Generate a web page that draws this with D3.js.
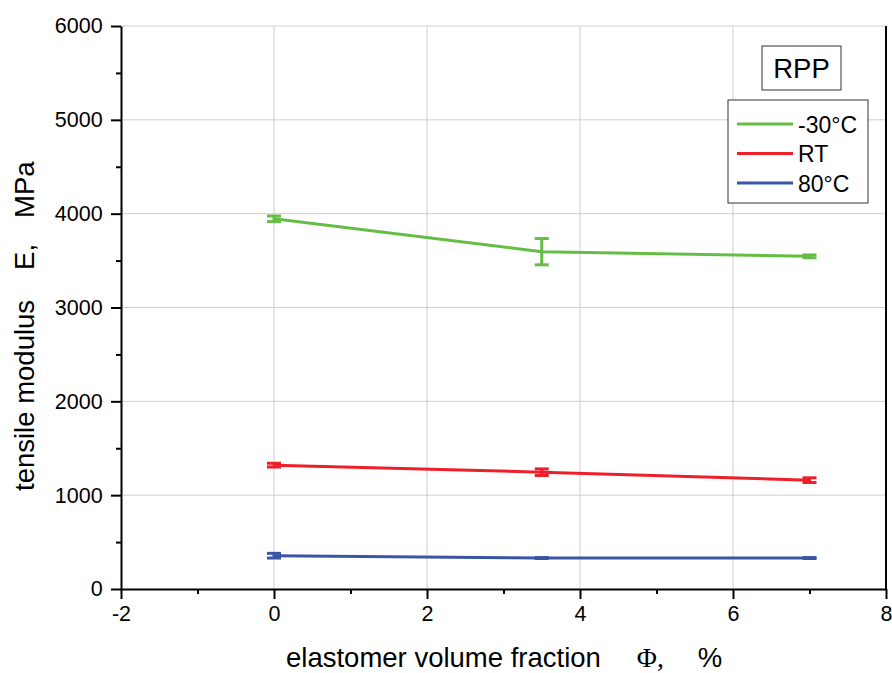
<!DOCTYPE html>
<html>
<head>
<meta charset="utf-8">
<script src="https://cdn.jsdelivr.net/npm/d3@7/dist/d3.min.js"></script>
<style>
  html, body { margin: 0; padding: 0; background: #fff; }
  svg { display: block; font-family: "Liberation Sans", Arial, sans-serif; }
</style>
</head>
<body>
<svg id="chart" width="892" height="673"></svg>
<script>
// Elastomer volume fraction (%) at which the modulus was measured
const fractions = [0, 3.5, 7];

// Tensile modulus E (MPa) and its spread for each test temperature
const coldValues = [3945, 3595, 3545];
const coldErrors = [30, 140, 15];
const roomValues = [1320, 1245, 1160];
const roomErrors = [20, 35, 25];
const hotValues = [355, 330, 330];
const hotErrors = [25, 5, 5];

const seriesNames = ["-30°C", "RT", "80°C"];
const seriesColors = ["#66bd45", "#ee1f28", "#3a55a4"];

const xTicks = [-2, 0, 2, 4, 6, 8];
const yTicks = [0, 1000, 2000, 3000, 4000, 5000, 6000];
const materialLabel = "RPP";

const series = seriesNames.map((name, i) => ({
  name,
  color: seriesColors[i],
  values: [coldValues, roomValues, hotValues][i],
  errors: [coldErrors, roomErrors, hotErrors][i]
}));

const svg = d3.select("#chart");
const plotLeft = 121, plotRight = 886, plotTop = 26, plotBottom = 589;

const x = d3.scaleLinear().domain([-2, 8]).range([plotLeft, plotRight]);
const y = d3.scaleLinear().domain([0, 6000]).range([plotBottom, plotTop]);

// grid
const grid = svg.append("g").attr("stroke", "#cfcfcf").attr("stroke-width", 1);
grid.selectAll(".gx").data(xTicks.filter(t => t > -2 && t < 8)).join("line")
  .attr("x1", d => x(d)).attr("x2", d => x(d))
  .attr("y1", plotTop).attr("y2", plotBottom);
grid.selectAll(".gy").data(yTicks.filter(t => t > 0)).join("line")
  .attr("x1", plotLeft).attr("x2", plotRight)
  .attr("y1", d => y(d)).attr("y2", d => y(d));

// right frame line
svg.append("line").attr("x1", plotRight).attr("x2", plotRight).attr("y1", plotTop).attr("y2", plotBottom)
  .attr("stroke", "#000").attr("stroke-width", 2);

// minor ticks
const xMinor = d3.range(-1, 8, 2);
const yMinor = d3.range(500, 6000, 1000);

const plainNumber = d => String(d);
const xAxis = d3.axisBottom(x).tickValues(xTicks).tickFormat(plainNumber).tickSize(10).tickSizeOuter(0);
const yAxis = d3.axisLeft(y).tickValues(yTicks).tickFormat(plainNumber).tickSize(10).tickSizeOuter(0);

const gx = svg.append("g").attr("transform", `translate(0,${plotBottom})`).call(xAxis);
const gy = svg.append("g").attr("transform", `translate(${plotLeft},0)`).call(yAxis);

svg.append("g").attr("transform", `translate(0,${plotBottom})`)
  .call(d3.axisBottom(x).tickValues(xMinor).tickSize(5).tickFormat("").tickSizeOuter(0))
  .select(".domain").remove();
svg.append("g").attr("transform", `translate(${plotLeft},0)`)
  .call(d3.axisLeft(y).tickValues(yMinor).tickSize(5).tickFormat("").tickSizeOuter(0))
  .select(".domain").remove();

svg.selectAll(".domain").attr("stroke", "#000").attr("stroke-width", 2);
svg.selectAll(".tick line").attr("stroke", "#000").attr("stroke-width", 2);
gx.selectAll(".tick text").attr("font-size", 21.5).attr("fill", "#000").attr("dy", "0.9em").attr("font-family", "Liberation Sans, Arial, sans-serif");
gy.selectAll(".tick text").attr("font-size", 21.5).attr("fill", "#000").attr("dx", "-0.25em").attr("font-family", "Liberation Sans, Arial, sans-serif");

// lines and error bars
const line = d3.line().x(d => x(d.f)).y(d => y(d.v));
const capHalf = 7;
series.forEach(s => {
  const pts = fractions.map((f, i) => ({ f, v: s.values[i], e: s.errors[i] }));
  svg.append("path").datum(pts).attr("d", line)
    .attr("fill", "none").attr("stroke", s.color).attr("stroke-width", 3);
  const eb = svg.append("g").attr("stroke", s.color).attr("stroke-width", 3);
  pts.forEach(p => {
    eb.append("line").attr("x1", x(p.f)).attr("x2", x(p.f))
      .attr("y1", y(p.v - p.e)).attr("y2", y(p.v + p.e));
    [p.v - p.e, p.v + p.e].forEach(v => {
      eb.append("line").attr("x1", x(p.f) - capHalf).attr("x2", x(p.f) + capHalf)
        .attr("y1", y(v)).attr("y2", y(v));
    });
  });
});

// material label box
svg.append("rect").attr("x", 762).attr("y", 46).attr("width", 79).attr("height", 44)
  .attr("fill", "#fff").attr("stroke", "#333").attr("stroke-width", 1);
svg.append("text").attr("x", 801.5).attr("y", 78).attr("text-anchor", "middle")
  .attr("font-size", 27.5).text(materialLabel);

// legend
svg.append("rect").attr("x", 728).attr("y", 100).attr("width", 140).attr("height", 103)
  .attr("fill", "#fff").attr("stroke", "#333").attr("stroke-width", 1);
series.forEach((s, i) => {
  const ly = 124 + i * 29.5;
  svg.append("line").attr("x1", 737).attr("x2", 793).attr("y1", ly).attr("y2", ly)
    .attr("stroke", s.color).attr("stroke-width", 3);
  svg.append("text").attr("x", 798).attr("y", ly + 8.5).attr("font-size", 23).text(s.name);
});

// axis titles
const xt = svg.append("text").attr("x", 286).attr("y", 666.5).attr("font-size", 27.5);
xt.append("tspan").text("elastomer volume fraction");
xt.append("tspan").attr("dx", 36).attr("font-family", "Liberation Serif, serif").text("Φ,");
xt.append("tspan").attr("dx", 34).text("%");

const yt = svg.append("text").attr("transform", "translate(34,491) rotate(-90)").attr("font-size", 27.5);
yt.append("tspan").text("tensile modulus");
yt.append("tspan").attr("dx", 30).text("E,");
yt.append("tspan").attr("dx", 26).text("MPa");
</script>
</body>
</html>
